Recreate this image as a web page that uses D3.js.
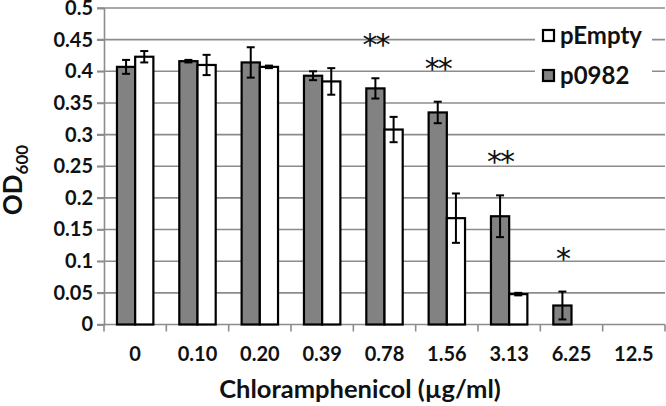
<!DOCTYPE html>
<html><head><meta charset="utf-8">
<script src="https://cdn.jsdelivr.net/npm/d3@7"></script>
<style>body{margin:0;background:#fff}svg{display:block}</style>
</head><body>
<svg id="c" width="666" height="406"></svg>
<script>
const categories = ["0","0.10","0.20","0.39","0.78","1.56","3.13","6.25","12.5"];
const p0982 = [0.407,0.416,0.414,0.393,0.373,0.335,0.171,0.030,0];
const p0982Err = [0.011,0.002,0.024,0.007,0.016,0.017,0.033,0.022,0];
const pEmpty = [0.423,0.410,0.407,0.384,0.308,0.168,0.048,0,0];
const pEmptyErr = [0.009,0.016,0.002,0.021,0.020,0.039,0.002,0,0];
const significance = ["","","","","**","**","**","*",""];
const yTicks = [0,0.05,0.1,0.15,0.2,0.25,0.3,0.35,0.4,0.45,0.5];

const FONT = "Lato, 'Open Sans', sans-serif";
const svg = d3.select("#c");
const m = {l:104, r:665, t:8, b:324.5};
const x = d3.scaleBand().domain(categories).range([m.l, m.r]).paddingInner(0).paddingOuter(0);
const y = d3.scaleLinear().domain([0,0.5]).range([m.b, m.t]);
const barW = 18.2;

// gridlines
svg.append("g").selectAll("line").data(yTicks.filter(d=>d>0)).join("line")
  .attr("x1", m.l-7).attr("x2", m.r).attr("y1", d=>y(d)).attr("y2", d=>y(d))
  .attr("stroke","#8c8c8c").attr("stroke-width",1.6);

// y axis
const yAxis = svg.append("g").attr("transform",`translate(${m.l},0)`)
  .call(d3.axisLeft(y).tickValues(yTicks).tickSize(7).tickPadding(4).tickFormat(d=>d3.format("")(+d.toFixed(2))));
yAxis.select(".domain").attr("stroke","#8c8c8c").attr("stroke-width",1.6);
yAxis.selectAll(".tick line").attr("stroke","#8c8c8c").attr("stroke-width",1.6);
yAxis.selectAll("text").attr("font-family",FONT).attr("font-weight","bold").attr("font-size",20).attr("fill","#111");

// x axis
const xAxis = svg.append("g").attr("transform",`translate(0,${m.b})`)
  .call(d3.axisBottom(x).tickSize(0).tickPadding(22));
xAxis.select(".domain").remove();
xAxis.selectAll("text").attr("font-family",FONT).attr("font-weight","bold").attr("font-size",20).attr("fill","#111");
svg.append("line").attr("x1",m.l-7).attr("x2",m.r).attr("y1",m.b).attr("y2",m.b)
  .attr("stroke","#8c8c8c").attr("stroke-width",1.6);
const bounds = categories.map(c=>x(c)).concat([m.r]);
svg.append("g").selectAll("line").data(bounds).join("line")
  .attr("x1",d=>d).attr("x2",d=>d).attr("y1",m.b).attr("y2",m.b+7)
  .attr("stroke","#8c8c8c").attr("stroke-width",1.6);

// bars
const cx = c => x(c) + x.bandwidth()/2;
const series = [
  {vals:p0982, err:p0982Err, fill:"#828282", off:-barW},
  {vals:pEmpty, err:pEmptyErr, fill:"#ffffff", off:0}
];
series.forEach(s=>{
  const g = svg.append("g");
  g.selectAll("rect").data(categories.map((c,i)=>({c,v:s.vals[i],e:s.err[i]})).filter(d=>d.v>0)).join("rect")
    .attr("x", d=>cx(d.c)+s.off).attr("width", barW)
    .attr("y", d=>y(d.v)).attr("height", d=>y(0)-y(d.v))
    .attr("fill", s.fill).attr("stroke","#000").attr("stroke-width",2.2);
  const eg = svg.append("g").attr("stroke","#000").attr("stroke-width",2);
  categories.forEach((c,i)=>{
    if(!(s.vals[i]>0)) return;
    const xc = cx(c)+s.off+barW/2, v=s.vals[i], e=s.err[i];
    eg.append("line").attr("x1",xc).attr("x2",xc).attr("y1",y(v+e)).attr("y2",y(v-e));
    eg.append("line").attr("x1",xc-4).attr("x2",xc+4).attr("y1",y(v+e)).attr("y2",y(v+e));
    eg.append("line").attr("x1",xc-4).attr("x2",xc+4).attr("y1",y(v-e)).attr("y2",y(v-e));
  });
});

// significance stars
svg.append("g").selectAll("text").data(categories.map((c,i)=>({c,s:significance[i],v:p0982[i]+p0982Err[i]})).filter(d=>d.s))
  .join("text")
  .attr("x", d=>cx(d.c)-barW/2).attr("y", d=>y(d.v)-37+14)
  .attr("text-anchor","middle").attr("font-family","'DejaVu Sans', sans-serif").attr("font-size",30)
  .attr("letter-spacing",-2)
  .attr("fill","#111").text(d=>d.s);

// legend
const lg = svg.append("g");
lg.append("rect").attr("x",535).attr("y",16).attr("width",117).attr("height",78).attr("fill","#fff");
const items = [{name:"pEmpty", fill:"#ffffff", yc:35.5},{name:"p0982", fill:"#828282", yc:75.5}];
items.forEach(it=>{
  lg.append("rect").attr("x",543).attr("y",it.yc-5.5).attr("width",11).attr("height",11)
    .attr("fill",it.fill).attr("stroke","#000").attr("stroke-width",2.2);
  lg.append("text").attr("x",560).attr("y",it.yc+8).attr("font-family",FONT).attr("font-weight","bold")
    .attr("font-size",24).attr("fill","#111").text(it.name);
});

// axis titles
svg.append("text").attr("x",360).attr("y",398).attr("text-anchor","middle")
  .attr("font-family",FONT).attr("font-weight","bold").attr("font-size",25.5).attr("fill","#111")
  .text("Chloramphenicol (µg/ml)");
const yt = svg.append("text").attr("transform","translate(22,180) rotate(-90)").attr("text-anchor","middle")
  .attr("font-family",FONT).attr("font-weight","bold").attr("font-size",26).attr("fill","#111");
yt.append("tspan").text("OD");
yt.append("tspan").attr("font-size",17).attr("dy",6).text("600");
</script>
</body></html>
